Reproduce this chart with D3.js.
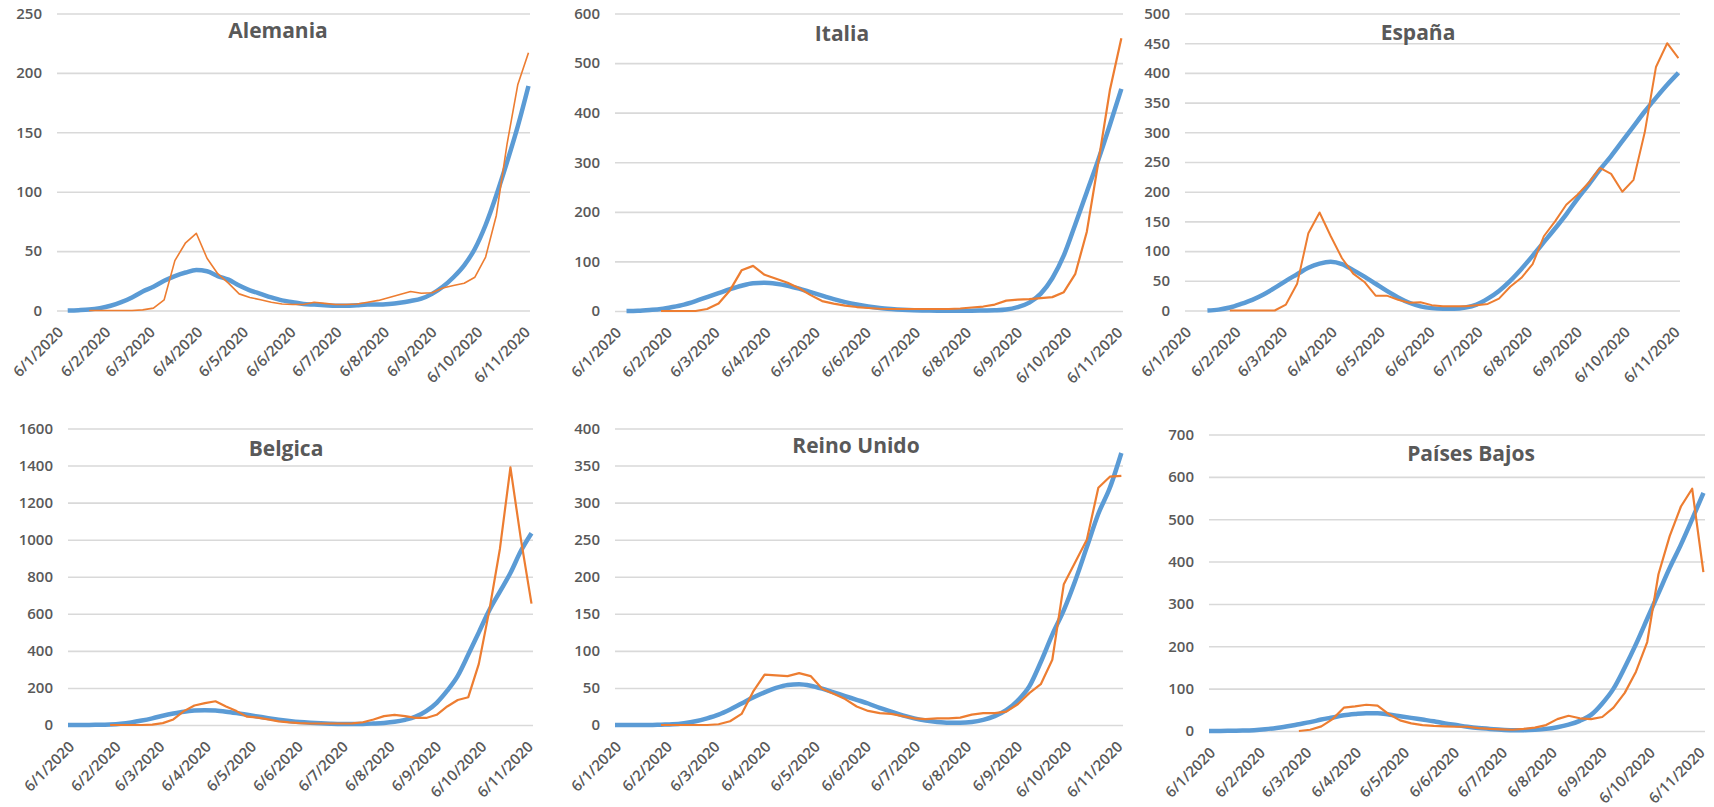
<!DOCTYPE html>
<html>
<head>
<meta charset="utf-8">
<script src="https://cdn.jsdelivr.net/npm/d3@7"></script>
<style>
  html, body { margin: 0; padding: 0; background: #fff; }
  svg { display: block; }
  text { font-family: "Open Sans", "Liberation Sans", sans-serif; }
</style>
</head>
<body>
<svg id="chart" width="1714" height="807"></svg>
<script>
// muestras semanales: 6 ene 2020 ... 9 nov 2020
var fechas = d3.timeDay.range(new Date(2020, 0, 6), new Date(2020, 10, 10), 7);

// etiquetas del eje x (6 de cada mes)
var mesesTicks = d3.range(0, 11).map(function(m){ return new Date(2020, m, 6); });
var etiquetasX = ['6/1/2020','6/2/2020','6/3/2020','6/4/2020','6/5/2020','6/6/2020',
  '6/7/2020','6/8/2020','6/9/2020','6/10/2020','6/11/2020'];

var paises = ['Alemania', 'Italia', 'España', 'Belgica', 'Reino Unido', 'Países Bajos'];
var maximosY = [250, 600, 500, 1600, 400, 700];
var pasosY = [50, 100, 50, 200, 50, 100];

// curva ajustada (azul)
var alemaniaAjuste = [null,0,0.3,0.8,2,4,7,11,16,20,25,29,32,34,33,29,26,21,17,14,11,8.5,7,5.5,5,4.5,4,4,4.5,5,5,5.5,6.5,8,10,14,20,28,38,52,72,97,125,155,189];
var italiaAjuste = [null,0,0.5,2,4,8,13,20,28,36,44,51,56,57,55,51,45,38,31,24,18,13,9,6,4,2.5,1.5,1,0.5,0.5,0.5,0.5,1,1.5,3,8,17,35,66,112,175,240,305,375,448];
var espanaAjuste = [null,null,0,1.5,5,11,18,27,38,50,61,72,79,82,78,68,57,45,33,22,13,7,4,3,3,5,10,20,33,50,70,92,115,138,162,188,212,237,260,285,310,335,358,380,400];
var belgicaAjuste = [0,0,0.5,1,3,7,14,24,36,50,62,72,78,80,78,72,64,55,46,37,29,22,16,12,9,7,6,6,6,8,11,17,28,45,75,120,185,265,380,500,620,720,820,940,1035];
var reinoUnidoAjuste = [0,0,0,0,0.5,1,2.5,5,9,14,21,29,37,44,50,54,55,53,49,44,39,34,29,23,18,13,9,6,4,3,3,4,7,12,20,33,52,85,122,155,195,240,285,320,367];
var paisesBajosAjuste = [0,0,0.5,1,2,4,7,11,16,21,27,32,37,40,42,42,39,35,31,27,23,18,14,10,7,5,3,2,2,3,5,9,15,24,38,65,100,150,205,265,325,385,440,500,562];

// datos reales (naranja)
var alemaniaReal = [null,null,null,0,0,0,0,0,0.5,2,9,42,57,65,44,31,23,14,11,9,7,5.5,5,5,7,6,5,5,5.5,7,8.5,11,13.5,16,14.5,15,19,21,23,28,45,80,140,190,217];
var italiaReal = [null,null,null,null,0,0,0,0,4,15,42,82,91,73,65,57,46,32,20,15,11,8,6,4.5,4,4,4,4,4,4,5,7,9,13,21,23,24,26,28,38,75,160,300,445,550];
var espanaReal = [null,null,null,null,0,0,0,0,0,10,45,130,165,125,88,62,48,25,25,18,13,14,9,7,7,7,9,11,20,40,55,78,125,150,178,195,215,240,230,200,220,300,410,450,425];
var belgicaReal = [null,null,null,null,0,0,0,0,2,10,30,75,105,118,128,100,75,45,40,30,20,14,10,8,8,8,8,9,15,30,48,55,48,38,38,55,100,135,150,330,620,950,1390,1000,655];
var reinoUnidoReal = [null,null,null,null,0,0,0,0,0,1,5,15,45,68,67,66,70,66,49,42,35,25,19,16,15,12,9,8,9,9,10,14,16,16,18,28,43,55,88,190,220,250,320,335,336];
var paisesBajosReal = [null,null,null,null,null,null,null,null,0,3,11,28,55,58,62,60,40,25,18,14,12,11,10,10,7,5,4,3,5,8,14,28,36,30,28,33,55,90,140,210,370,460,530,572,375];

var ajustes = [alemaniaAjuste, italiaAjuste, espanaAjuste, belgicaAjuste, reinoUnidoAjuste, paisesBajosAjuste];
var reales = [alemaniaReal, italiaReal, espanaReal, belgicaReal, reinoUnidoReal, paisesBajosReal];

// posicion de cada panel en la imagen
var paneles = [
  {x0: 57,   x1: 530,  yTop: 13.5,  y0: 310.5, tx: 278,  ty: 38,  naranja: 1.6},
  {x0: 615,  x1: 1123, yTop: 13.5,  y0: 311,   tx: 842,  ty: 41,  naranja: 2.2},
  {x0: 1185, x1: 1680, yTop: 13.5,  y0: 310.5, tx: 1418, ty: 40,  naranja: 2},
  {x0: 68,   x1: 533,  yTop: 428.5, y0: 725,   tx: 286,  ty: 456, naranja: 2.2},
  {x0: 615,  x1: 1123, yTop: 428.5, y0: 725,   tx: 856,  ty: 453, naranja: 2.2},
  {x0: 1209, x1: 1705, yTop: 434.5, y0: 731,   tx: 1471, ty: 461, naranja: 2.2}
];

var AZUL = '#5B9BD5', NARANJA = '#ED7D31', GRIS = '#595959', REJILLA = '#D9D9D9';
var inicio = new Date(2020, 0, 6), fin = new Date(2020, 10, 10);

var svg = d3.select('#chart');
svg.append('rect').attr('width', 1714).attr('height', 807).attr('fill', '#fff');

paneles.forEach(function(p, i){
  var g = svg.append('g').attr('class', 'panel');
  var x = d3.scaleTime().domain([inicio, fin]).range([p.x0, p.x1]);
  var y = d3.scaleLinear().domain([0, maximosY[i]]).range([p.y0, p.yTop]);

  // rejilla + etiquetas del eje y
  var gy = g.append('g')
    .attr('transform', 'translate(' + p.x0 + ',0)')
    .call(d3.axisLeft(y)
      .tickValues(d3.range(0, maximosY[i] + 1, pasosY[i]))
      .tickFormat(d3.format('d'))
      .tickSize(-(p.x1 - p.x0))
      .tickPadding(15));
  gy.select('.domain').remove();
  gy.selectAll('line').attr('stroke', REJILLA).attr('stroke-width', 1.6);
  gy.selectAll('text')
    .attr('fill', GRIS)
    .style('font-size', '15px')
    .style('font-weight', 600);

  // etiquetas del eje x (giradas)
  var gx = g.append('g')
    .attr('transform', 'translate(0,' + p.y0 + ')')
    .call(d3.axisBottom(x)
      .tickValues(mesesTicks)
      .tickSize(0)
      .tickFormat(function(d, j){ return etiquetasX[j]; }));
  gx.select('.domain').remove();
  gx.selectAll('text')
    .attr('y', 0)
    .attr('dy', '0.35em')
    .attr('transform', 'translate(3,19) rotate(-45)')
    .style('text-anchor', 'end')
    .attr('fill', GRIS)
    .style('font-size', '15px')
    .style('font-weight', 600);

  var linea = function(curva){
    return d3.line()
      .defined(function(d){ return d != null; })
      .x(function(d, j){ return x(fechas[j]); })
      .y(function(d){ return y(d); })
      .curve(curva);
  };

  g.append('path')
    .datum(ajustes[i])
    .attr('fill', 'none')
    .attr('stroke', AZUL)
    .attr('stroke-width', 4.5)
    .attr('stroke-linejoin', 'round')
    .attr('d', linea(d3.curveMonotoneX));

  g.append('path')
    .datum(reales[i])
    .attr('fill', 'none')
    .attr('stroke', NARANJA)
    .attr('stroke-width', p.naranja)
    .attr('stroke-linejoin', 'round')
    .attr('d', linea(d3.curveLinear));

  g.append('text')
    .attr('x', p.tx)
    .attr('y', p.ty)
    .attr('text-anchor', 'middle')
    .attr('fill', GRIS)
    .style('font-size', '21px')
    .style('font-weight', 700)
    .text(paises[i]);
});
</script>
</body>
</html>
